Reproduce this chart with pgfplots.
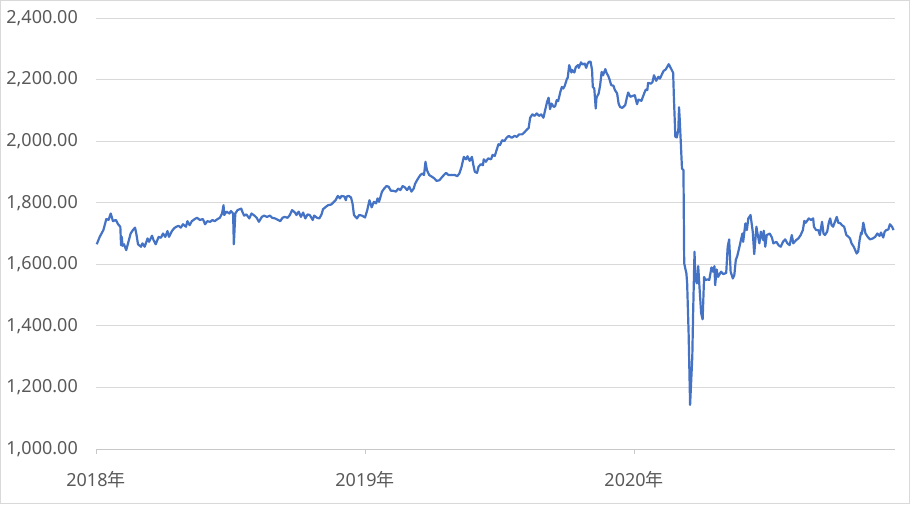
\documentclass[border=0pt]{standalone}
\usepackage{fontspec}
\setmainfont{Noto Sans}
\newfontfamily\cjk{Noto Sans CJK JP}
\usepackage{pgfplots}
\pgfplotsset{compat=1.18}
\definecolor{seriesblue}{HTML}{4472C4}
\definecolor{gridgray}{HTML}{D9D9D9}
\definecolor{axisgray}{HTML}{C8C8C8}
\definecolor{labelgray}{HTML}{595959}

% day number since 2018-01-01, price
\pgfplotstableread{
day value
1 1665
5 1689
10 1711
14 1747
17 1744
20 1765
23 1740
27 1744
30 1730
33 1722
34 1662
35 1689
36 1660
38 1665
41 1646
44 1673
47 1700
50 1711
53 1719
55 1695
57 1665
61 1657
63 1668
66 1657
70 1684
72 1673
76 1693
78 1679
81 1665
85 1689
88 1686
91 1700
94 1689
97 1708
99 1689
103 1708
106 1717
109 1722
112 1725
115 1719
118 1730
122 1722
124 1740
127 1727
130 1740
134 1747
137 1751
141 1744
145 1747
148 1730
151 1740
155 1738
158 1744
161 1740
165 1747
168 1751
171 1765
173 1792
174 1760
177 1771
181 1765
183 1773
186 1765
187 1665
189 1765
192 1776
197 1781
199 1768
201 1758
204 1762
208 1749
211 1765
215 1758
218 1751
221 1738
225 1754
228 1758
232 1754
236 1758
239 1751
243 1749
247 1744
250 1740
253 1751
256 1754
260 1751
263 1760
266 1776
270 1768
272 1760
275 1771
278 1754
281 1768
284 1749
287 1762
290 1760
294 1744
296 1758
300 1751
303 1749
306 1762
308 1779
312 1787
315 1792
319 1794
322 1801
325 1808
328 1822
331 1814
333 1822
337 1820
339 1808
340 1820
343 1822
346 1817
348 1798
350 1760
354 1749
357 1760
361 1758
365 1752
368 1776
371 1808
374 1785
377 1803
380 1798
382 1814
384 1803
388 1836
391 1846
394 1854
397 1852
400 1839
403 1839
407 1836
410 1846
413 1841
416 1854
419 1850
422 1841
425 1852
428 1836
431 1846
433 1862
436 1875
440 1890
443 1895
445 1890
447 1933
449 1906
452 1890
456 1884
459 1879
462 1871
466 1873
469 1882
472 1890
475 1897
478 1890
483 1890
487 1890
490 1886
493 1895
496 1917
499 1949
502 1941
504 1951
507 1936
510 1949
512 1922
514 1900
517 1897
519 1917
522 1925
525 1922
526 1941
529 1933
532 1944
536 1941
538 1955
541 1952
546 1990
548 1987
551 2003
554 2000
557 2011
560 2017
564 2011
568 2017
571 2014
574 2022
578 2022
581 2028
584 2036
587 2043
589 2076
592 2087
595 2082
598 2090
601 2082
604 2087
607 2076
609 2097
612 2128
614 2141
616 2104
618 2122
621 2111
623 2114
625 2133
627 2130
630 2160
632 2176
634 2171
636 2180
639 2203
640 2206
642 2247
645 2223
646 2231
649 2223
651 2241
654 2247
655 2238
658 2256
660 2249
663 2252
665 2238
667 2252
669 2258
671 2258
673 2231
674 2176
676 2171
678 2106
679 2141
682 2155
684 2182
686 2225
688 2214
691 2234
693 2220
695 2212
697 2198
699 2182
702 2180
704 2166
707 2155
709 2122
711 2111
714 2108
718 2117
720 2139
722 2158
725 2144
728 2147
731 2149
734 2120
736 2135
740 2131
744 2157
746 2168
748 2166
749 2189
753 2187
755 2192
757 2214
760 2196
763 2209
765 2203
768 2218
770 2228
773 2233
777 2250
779 2241
783 2222
784 2144
786 2014
788 2012
790 2036
791 2110
792 2068
795 1911
797 1906
798 1603
801 1570
802 1538
804 1376
806 1143
809 1300
810 1430
812 1641
813 1559
815 1538
817 1594
819 1516
821 1441
823 1421
825 1559
827 1549
830 1551
832 1549
835 1590
837 1576
839 1594
840 1532
842 1583
844 1559
848 1576
851 1568
855 1572
857 1657
859 1681
861 1576
864 1554
866 1565
868 1614
870 1627
873 1657
875 1679
877 1700
878 1673
881 1733
883 1711
885 1749
888 1760
891 1706
893 1633
896 1722
897 1706
900 1668
902 1706
905 1679
906 1709
908 1657
910 1695
914 1700
917 1687
919 1668
923 1673
926 1662
929 1657
932 1673
935 1681
938 1668
941 1662
944 1695
946 1668
950 1679
953 1684
956 1695
959 1711
961 1741
963 1735
967 1749
970 1744
973 1749
974 1722
977 1711
980 1711
982 1695
985 1738
987 1700
989 1695
992 1706
994 1733
996 1749
998 1727
1000 1722
1003 1741
1005 1754
1007 1735
1010 1733
1012 1727
1015 1722
1018 1695
1021 1689
1023 1684
1025 1668
1028 1657
1030 1646
1032 1635
1034 1641
1036 1679
1038 1703
1039 1698
1041 1735
1044 1700
1047 1689
1050 1681
1054 1684
1057 1689
1060 1700
1063 1692
1065 1703
1068 1687
1070 1706
1072 1711
1075 1713
1077 1730
1080 1722
1082 1711
}\pricedata

\begin{document}
\begin{tikzpicture}[x=1pt,y=1pt]
\path[use as bounding box] (0,0) rectangle (910,504);
\draw[gridgray, line width=1pt] (0.5,0.5) rectangle (909.5,503.5);
\begin{axis}[
    at={(96pt,55pt)},
    anchor=south west,
    scale only axis,
    width=799pt,
    height=431pt,
    xmin=0, xmax=1084,
    ymin=1000, ymax=2400,
    ytick={1000,1200,...,2400},
    xtick={0,365,730},
    xticklabels={2018{\cjk 年},2019{\cjk 年},2020{\cjk 年}},
    axis x line*=bottom,
    axis y line*=left,
    x axis line style={draw=axisgray, line width=0.8pt, -},
    y axis line style={draw=none},
    ymajorgrids,
    grid style={gridgray, line width=0.8pt},
    tick align=outside,
    xtick style={draw=axisgray, line width=0.8pt},
    ytick style={draw=none},
    major tick length=5pt,
    ticklabel style={font=\fontsize{18}{21}\selectfont, text=labelgray},
    xticklabel style={anchor=base, inner sep=0pt, yshift=-32pt},
    yticklabel style={anchor=east, inner sep=0pt, xshift=-13pt,
        /pgf/number format/.cd, fixed, fixed zerofill, precision=2, 1000 sep={,}},
    /pgf/number format/assume math mode=true,
    clip=false,
  ]
  \addplot[seriesblue, line width=2.2pt, line join=round, mark=none] table[x=day, y=value] {\pricedata};
\end{axis}
\end{tikzpicture}
\end{document}
